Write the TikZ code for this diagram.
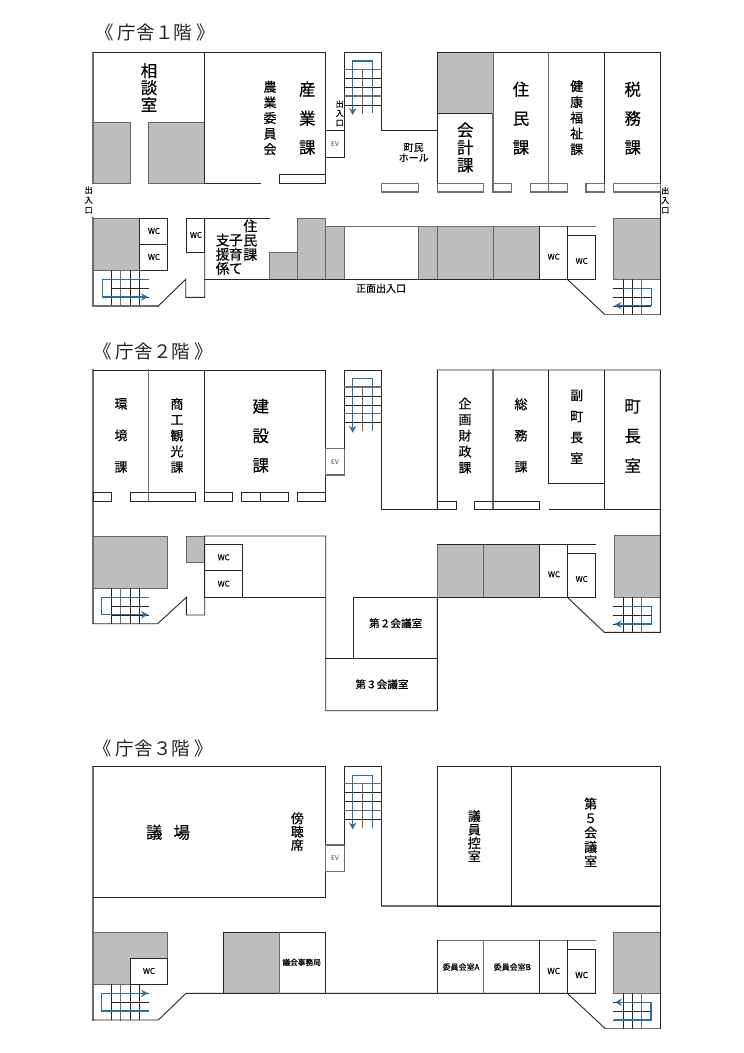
\documentclass[tikz,border=0pt]{standalone}
\usepackage{fontspec}
\setmainfont{Noto Sans CJK JP}
\newfontfamily\midf[FakeBold=0.3]{Noto Sans CJK JP}
\usetikzlibrary{arrows.meta}
\definecolor{wallc}{HTML}{262626}
\definecolor{gwallc}{HTML}{6E6E6E}
\definecolor{roomg}{HTML}{BDBDBD}
\definecolor{stairb}{HTML}{2A6EA6}
\tikzset{
  wall/.style={draw=wallc,line width=0.9pt,line cap=rect},
  gwall/.style={draw=gwallc,line width=1.1pt,line cap=rect},
  grayroom/.style={fill=roomg,draw=wallc!70,line width=0.9pt},
  flow/.style={draw=stairb,line width=1.3pt,-{Stealth[length=7pt,width=7.5pt,inset=2.5pt]}},
  lbl/.style={inner sep=0pt,outer sep=0pt,align=center,text=black},
}
\newcommand{\vlab}[6]{\node[lbl,font=\fontsize{#4}{#5}\selectfont\midf] (#1) at (#2,#3) {#6};}
\newcommand{\hlab}[5]{\node[lbl,font=\fontsize{#4}{#4}\selectfont\midf] (#1) at (#2,#3) {#5};}
\newcommand{\thinlab}[5]{\node[lbl,text=black!75,font=\fontsize{#4}{#4}\selectfont] (#1) at (#2,#3) {#5};}
\newcommand{\ttl}[4]{\node[lbl,text=black!85,font=\fontsize{18.5}{18.5}\selectfont] (#1) at (#2,#3) {#4};}
% central staircase, drawn at vertical offset #1
\newcommand{\centerstairs}[1]{
\begin{scope}[shift={(0,#1)}]
  \draw[gwall] (344.3,69.3)--(381.3,69.3) (344.3,96)--(381.3,96);
  \draw[wall] (344.3,78.3)--(381.3,78.3) (344.3,87.3)--(381.3,87.3) (344.3,105)--(381.3,105);
  \draw[wall,draw=wallc!70] (362.5,69.3)--(362.5,113.3);
  \draw[flow] (372.3,113.3)--(372.3,61)--(352.7,61)--(352.7,115);
\end{scope}}
% left staircase grid: top y #1, bottom y #2, first line #3
\newcommand{\leftgrid}[3]{
  \draw[wall] (111.3,#1)--(111.3,#2) (130,#1)--(130,#2) (139.3,#1)--(139.3,#2);
  \draw[gwall] (120.7,#1)--(120.7,#2);
  \draw[wall] (111.3,#3)--(149,#3) (111.3,#3+9)--(149,#3+9) (111.3,#3+18)--(149,#3+18);
}
% right staircase grid
\newcommand{\rightgrid}[3]{
  \draw[wall] (623.3,#1)--(623.3,#2) (632.7,#1)--(632.7,#2);
  \draw[gwall] (641.7,#1)--(641.7,#2);
  \draw[wall] (613.7,#3)--(651,#3) (613.7,#3+9)--(651,#3+9) (613.7,#3+18)--(651,#3+18);
}
\begin{document}
\begin{tikzpicture}[x=1pt,y=-1pt]
\useasboundingbox (0,0) rectangle (744,1053);
\fill[white] (0,0) rectangle (744,1053);

%% ---------- FLOOR 1 ----------
\ttl{t1}{155}{32}{《 庁舎１階 》}
\draw[grayroom] (93,122) rectangle (130.7,183);
\draw[grayroom] (148.7,122) rectangle (204.7,183);
\draw[grayroom] (93,218) rectangle (139.3,270.3);
\draw[grayroom] (269.3,252.7) rectangle (297.3,279.3);
\draw[grayroom] (297.3,218) rectangle (325.7,279.3);
\draw[grayroom] (325.7,226.7) rectangle (344.3,279.3);
\draw[grayroom] (418.7,226.7) rectangle (437.3,279.3);
\draw[grayroom] (437.3,226.7) rectangle (493.3,279.3);
\draw[grayroom] (493.3,226.7) rectangle (539.3,279.3);
\draw[grayroom] (613.7,218) rectangle (660.3,279.3);
\draw[grayroom] (437.3,52.3) rectangle (493,113.3);
\draw[gwall] (93,183)--(93,52.3);
\draw[wall] (93,52.3)--(325.7,52.3)--(325.7,183);
\draw[wall] (204.7,52.3)--(204.7,183)--(260.7,183);
\draw[wall] (279.7,174.3) rectangle (325.7,183);
\draw[gwall] (93,218)--(93,306);
\draw[wall] (325.7,130.7) rectangle (344.3,157);
\draw[wall] (344.3,130.7)--(344.3,52.3)--(381.3,52.3)--(381.3,130.7)--(437.3,130.7);
\centerstairs{0}
\draw[wall] (139.3,218) rectangle (167.7,244.3);
\draw[wall] (139.3,244.3) rectangle (167.7,270.3);
\leftgrid{270.3}{306}{279.3}
\draw[flow] (149,279.3)--(102.3,279.3)--(102.3,297)--(148,297);
\draw[gwall] (93,306)--(158.3,306);
\draw[wall] (158.3,306)--(185.7,279.3)--(185.7,297.3)--(204.7,297.3)--(204.7,218);
\draw[wall] (186,218) rectangle (204.7,252.7);
\draw[wall] (204.7,218)--(270,218);
\draw[wall] (204.7,279.3)--(595.3,279.3);
\draw[gwall] (344.3,226.7)--(595.3,226.7);
\draw[wall] (539.3,226.7)--(539.3,279.3);
\draw[wall] (567.3,226.7)--(567.3,279.3);
\draw[wall] (567.3,235.3) rectangle (595.3,279.3);
\draw[wall] (567.3,279.3)--(605,314.7);
\draw[gwall] (605,314.7)--(660.3,314.7);
\draw[wall] (660.3,52.3)--(660.3,314.7);
\rightgrid{279.3}{314.7}{288.3}
\draw[flow] (623.3,288.3)--(651.7,288.3)--(651.7,305.7)--(614.5,305.7);
\draw[wall] (437.3,52.3)--(660.3,52.3);
\draw[wall] (437.3,52.3)--(437.3,192);
\draw[wall] (437.3,113.3)--(493,113.3);
\draw[gwall] (493,113.3)--(493,192);
\draw[gwall] (548.7,52.3)--(548.7,192);
\draw[wall] (604.3,52.3)--(604.3,192);
\draw[gwall] (381.3,183.3) rectangle (418.7,192);
\draw[gwall] (437.3,183.3) rectangle (483.7,192);
\draw[gwall] (493,183.3) rectangle (511.7,192);
\draw[gwall] (530.3,183.3) rectangle (567.3,192);
\draw[gwall] (586,183.3) rectangle (604.3,192);
\draw[gwall] (613.7,183.3) rectangle (660.3,192);
\vlab{a1}{149}{87.5}{16.5}{17}{相\\談\\室}
\vlab{a2}{270}{118}{13}{15.6}{農\\業\\委\\員\\会}
\vlab{a3}{307.3}{118.3}{16.5}{29}{産\\業\\課}
\vlab{a4}{339.7}{113.3}{8}{9.4}{出\\入\\口}
\thinlab{a5}{335}{143.7}{6.5}{EV}
\vlab{a6}{88.7}{200}{8}{10}{出\\入\\口}
\hlab{a7}{154}{231}{8}{WC}
\hlab{a8}{154}{257}{8}{WC}
\hlab{a9}{196}{235}{8}{WC}
\vlab{a10}{250.3}{240.2}{14}{14.2}{住\\民\\課}
\vlab{a11}{235.7}{254.2}{14}{14.2}{子\\育\\て}
\vlab{a12}{222.7}{254.2}{14}{14.2}{支\\援\\係}
\hlab{a13}{381}{288.3}{10}{正面出入口}
\vlab{a14}{413.7}{152.5}{10}{10.4}{町民\\ホール}
\vlab{a15}{465.3}{147.5}{16.5}{17.5}{会\\計\\課}
\vlab{a16}{521}{118.3}{16.5}{29}{住\\民\\課}
\vlab{a17}{576.7}{117.7}{13}{15.8}{健\\康\\福\\祉\\課}
\vlab{a18}{632.7}{118.3}{16.5}{29}{税\\務\\課}
\vlab{a19}{665.3}{200.3}{8}{9.7}{出\\入\\口}
\hlab{a20}{553.7}{256.7}{8}{WC}
\hlab{a21}{581.7}{261}{8}{WC}

%% ---------- FLOOR 2 ----------
\ttl{t2}{153}{351.5}{《 庁舎２階 》}
\draw[grayroom] (93,536) rectangle (167.7,588.3);
\draw[grayroom] (186.3,536) rectangle (204.7,562);
\draw[grayroom] (437.3,544.3) rectangle (483.3,597.3);
\draw[grayroom] (483.3,544.3) rectangle (539.3,597.3);
\draw[grayroom] (614,535.7) rectangle (660.3,597.3);
\draw[gwall] (93,370)--(93,623.7);
\draw[wall] (93,370)--(325.7,370)--(325.7,501);
\draw[gwall] (148.7,370)--(148.7,501);
\draw[wall] (204.7,370)--(204.7,501);
\draw[wall] (93,492.3) rectangle (111.7,501);
\draw[wall] (130.3,492.3) rectangle (195.7,501);
\draw[wall] (204.7,492.3) rectangle (232.7,501);
\draw[wall] (241.7,492.3) rectangle (288.7,501);
\draw[wall] (260.3,492.3)--(260.3,501);
\draw[wall] (297.7,492.3) rectangle (325.7,501);
\draw[gwall] (325.7,448.7) rectangle (344.3,475);
\draw[wall] (344.3,448.7)--(344.3,370)--(381.3,370)--(381.3,509.7)--(456,509.7);
\centerstairs{317.7}
\leftgrid{588.3}{623.7}{597.3}
\draw[flow] (149,597.3)--(101.7,597.3)--(101.7,614.7)--(148,614.7);
\draw[wall] (93,623.7)--(157.7,623.7)--(186.3,597.3)--(186.3,615)--(204.7,615)--(204.7,536)--(325.7,536)--(325.7,710.7)--(437.3,710.7)--(437.3,597.3);
\draw[wall] (204.7,544.3) rectangle (242,570.7);
\draw[wall] (204.7,570.7) rectangle (242,597.3);
\draw[wall] (204.7,597.3)--(325.7,597.3);
\draw[wall] (353.3,597.3) rectangle (437.3,658.3);
\draw[wall] (325.7,658.3)--(437.3,658.3);
\draw[wall] (437.3,597.3)--(595.3,597.3);
\draw[wall] (437.3,544.3)--(595.3,544.3);
\draw[wall] (539.3,544.3)--(539.3,597.3);
\draw[wall] (567.3,544.3)--(567.3,597.3);
\draw[wall] (567.3,553.3) rectangle (595.3,597.3);
\draw[wall] (567.3,597.3)--(604.3,632.3)--(660.3,632.3)--(660.3,370)--(437.3,370)--(437.3,509.7);
\rightgrid{597.3}{632.3}{606.3}
\draw[flow] (623.3,606.3)--(651.7,606.3)--(651.7,624)--(614.5,624);
\draw[gwall] (493,370)--(493,509.7);
\draw[wall] (548.7,370)--(548.7,483.3)--(604.3,483.3);
\draw[wall] (604.3,370)--(604.3,509.7);
\draw[wall] (437.3,501.3) rectangle (456,509.7);
\draw[wall] (474.3,501.3) rectangle (539.3,509.7);
\draw[wall] (549,509.7)--(660.3,509.7);
\vlab{b1}{121}{435.5}{13}{31.6}{環\\境\\課}
\vlab{b2}{177}{435.5}{13}{15.8}{商\\工\\観\\光\\課}
\vlab{b3}{260.7}{435.7}{16.5}{29.5}{建\\設\\課}
\thinlab{b4}{335}{461.7}{6.5}{EV}
\hlab{b5}{223.7}{557.3}{8}{WC}
\hlab{b6}{223.7}{583.7}{8}{WC}
\vlab{b7}{465}{435.5}{13}{16}{企\\画\\財\\政\\課}
\vlab{b8}{521}{435.5}{13}{31.2}{総\\務\\課}
\vlab{b9}{576.7}{426.7}{13}{21}{副\\町\\長\\室}
\vlab{b10}{632.7}{436}{16.5}{29.8}{町\\長\\室}
\hlab{b11}{395.7}{623.3}{10.6}{第２会議室}
\hlab{b12}{382}{684.3}{10.6}{第３会議室}
\hlab{b13}{554}{574.3}{8}{WC}
\hlab{b14}{581.7}{579}{8}{WC}

%% ---------- FLOOR 3 ----------
\ttl{t3}{153}{748.5}{《 庁舎３階 》}
\draw[grayroom] (93,932.3)--(167.7,932.3)--(167.7,958.3)--(130.3,958.3)--(130.3,984.3)--(93,984.3)--cycle;
\draw[grayroom] (223.7,932.3) rectangle (279.3,993.3);
\draw[grayroom] (613.7,932.3) rectangle (660.3,993.3);
\draw[gwall] (93,766.7)--(93,1020);
\draw[wall] (93,766.7)--(325.7,766.7)--(325.7,897.7)--(93,897.7);
\draw[gwall] (325.7,845) rectangle (344.3,871.3);
\draw[wall] (344.3,845)--(344.3,766.7)--(381.3,766.7)--(381.3,906);
\draw[gwall] (381.3,906)--(660.3,906);
\centerstairs{714.4}
\draw[wall] (130.3,958.3) rectangle (167.7,984.3);
\leftgrid{984.3}{1020}{993.3}
\draw[flow] (149,1011)--(101.7,1011)--(101.7,993.3)--(148,993.3);
\draw[wall] (93,1020)--(158.3,1020)--(186,993.3)--(595.3,993.3);
\draw[wall] (223.7,932.3) rectangle (325.7,993.3);
\draw[gwall] (279.3,932.3)--(279.3,993.3);
\draw[wall] (437.3,766.7) rectangle (511.3,906);
\draw[wall] (511.3,766.7) rectangle (660.3,906);
\draw[gwall] (437.3,940.7)--(595.3,940.7);
\draw[wall] (437.3,940.7)--(437.3,993.3);
\draw[gwall] (483.3,940.7)--(483.3,993.3);
\draw[wall] (539.3,940.7)--(539.3,993.3);
\draw[wall] (567.3,940.7)--(567.3,993.3);
\draw[wall] (567.3,949.3) rectangle (595.3,993.3);
\draw[wall] (567.3,993.3)--(605,1028.3);
\draw[gwall] (605,1028.3)--(660.3,1028.3);
\draw[wall] (660.3,766.7)--(660.3,1028.3);
\rightgrid{993.3}{1028.3}{1002.3}
\draw[flow] (614,1020)--(651,1020)--(651,1002.3)--(615,1002.3);
\hlab{c1}{168}{832.3}{16.5}{議\hspace*{11pt}場}
\vlab{c2}{297.3}{831.7}{13}{13.4}{傍\\聴\\席}
\thinlab{c3}{335}{857.7}{6.5}{EV}
\hlab{c4}{149}{971}{8}{WC}
\hlab{c5}{301.7}{962.3}{7.7}{議会事務局}
\vlab{c6}{474.3}{836}{13}{13.4}{議\\員\\控\\室}
\vlab{c7}{590.7}{832.3}{13}{14.4}{第\\５\\会\\議\\室}
\hlab{c8}{461}{967}{8}{委員会室A}
\hlab{c9}{512.3}{967}{8}{委員会室B}
\hlab{c10}{553.7}{971}{8.5}{WC}
\hlab{c11}{581.7}{975}{8.5}{WC}
\end{tikzpicture}
\end{document}
